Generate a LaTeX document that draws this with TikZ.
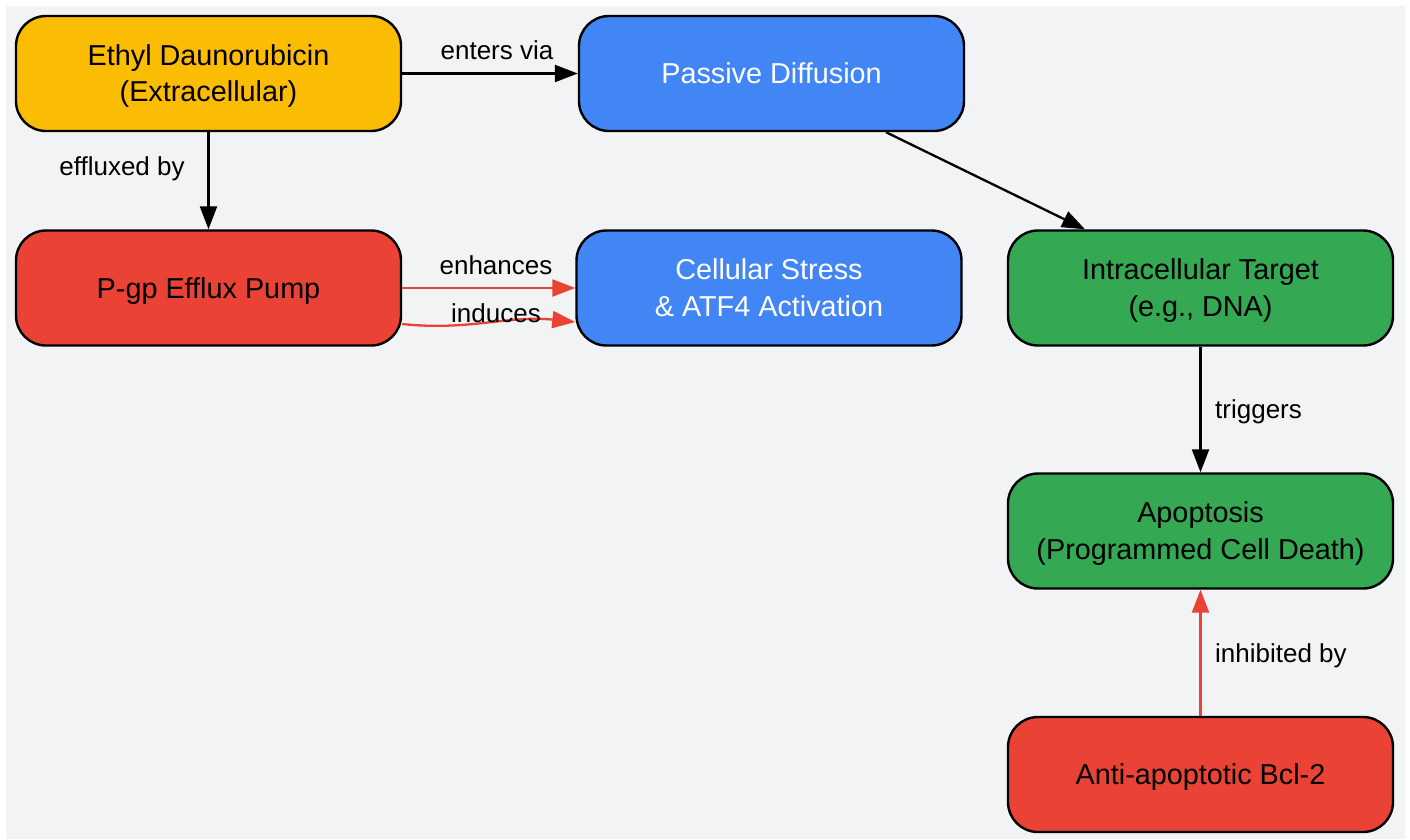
\documentclass[tikz,border=0pt]{standalone}
\usepackage{fontspec}
\setmainfont{Liberation Sans}
\usetikzlibrary{arrows.meta}
\definecolor{bg}{HTML}{F1F3F4}
\definecolor{cyellow}{HTML}{FBBC04}
\definecolor{cblue}{HTML}{4285F4}
\definecolor{cred}{HTML}{EA4335}
\definecolor{cgreen}{HTML}{34A853}
\newcommand{\stTop}{\rule{0pt}{28pt}}
\newcommand{\stBot}{\rule[-7.6pt]{0pt}{7.6pt}}
\begin{document}
\begin{tikzpicture}[x=1pt,y=-1pt,
  box/.style={draw=black, line width=2.4pt, rounded corners=30pt,
    minimum width=385pt, minimum height=115pt, align=center,
    font=\fontsize{28.8}{36.5}\selectfont, inner sep=0pt},
  lbl/.style={font=\fontsize{26}{30}\selectfont, inner sep=0pt, anchor=base},
  arr/.style={line width=2.3pt, -{Triangle[length=23pt,width=17pt]}},
  blk/.style={arr, draw=black},
  redarr/.style={arr, draw=cred, -{Triangle[length=23pt,width=17pt,fill=cred]}}
]
\useasboundingbox (0,0) rectangle (1410,839);
\fill[white] (0,0) rectangle (1410,839);
\fill[bg] (6,6) rectangle (1405,839);

\node[box, fill=cyellow] (ethyl) at (208.5,73.5) {\stTop Ethyl Daunorubicin\\(Extracellular)\stBot};
\node[box, fill=cblue, text=white] (passive) at (771.5,73.5) {\stTop Passive Diffusion\stBot};
\node[box, fill=cred] (pgp) at (208.5,288) {\stTop P-gp Efflux Pump\stBot};
\node[box, fill=cblue, text=white] (stress) at (769,288) {\stTop Cellular Stress\\\& ATF4 Activation\stBot};
\node[box, fill=cgreen] (target) at (1200.5,288) {\stTop Intracellular Target\\(e.g., DNA)\stBot};
\node[box, fill=cgreen] (apop) at (1200.5,531) {\stTop Apoptosis\\(Programmed Cell Death)\stBot};
\node[box, fill=cred] (bcl) at (1200.5,774.5) {\stTop Anti-apoptotic Bcl-2\stBot};

\draw[blk] (ethyl) -- (passive);
\node[lbl] (l1) at (497,59.3) {enters via};
\draw[blk] (ethyl) -- (pgp);
\node[lbl] (l2) at (122,175) {effluxed by};
\draw[blk] ([xshift=114.5pt]passive.south) -- ([xshift=-115.5pt]target.north);
\draw[redarr] (pgp.east) -- (stress.west);
\node[lbl] (l3) at (496,274) {enhances};
\draw[redarr] ([yshift=-36pt]pgp.east) to[out=-6,in=174] ([yshift=-34pt]stress.west);
\node[lbl] (l4) at (496,322) {induces};
\draw[blk] (target) -- (apop);
\node[lbl, anchor=base west] (l5) at (1215,418.3) {triggers};
\draw[redarr] (bcl) -- (apop);
\node[lbl, anchor=base west] (l6) at (1215,662) {inhibited by};
\end{tikzpicture}
\end{document}
